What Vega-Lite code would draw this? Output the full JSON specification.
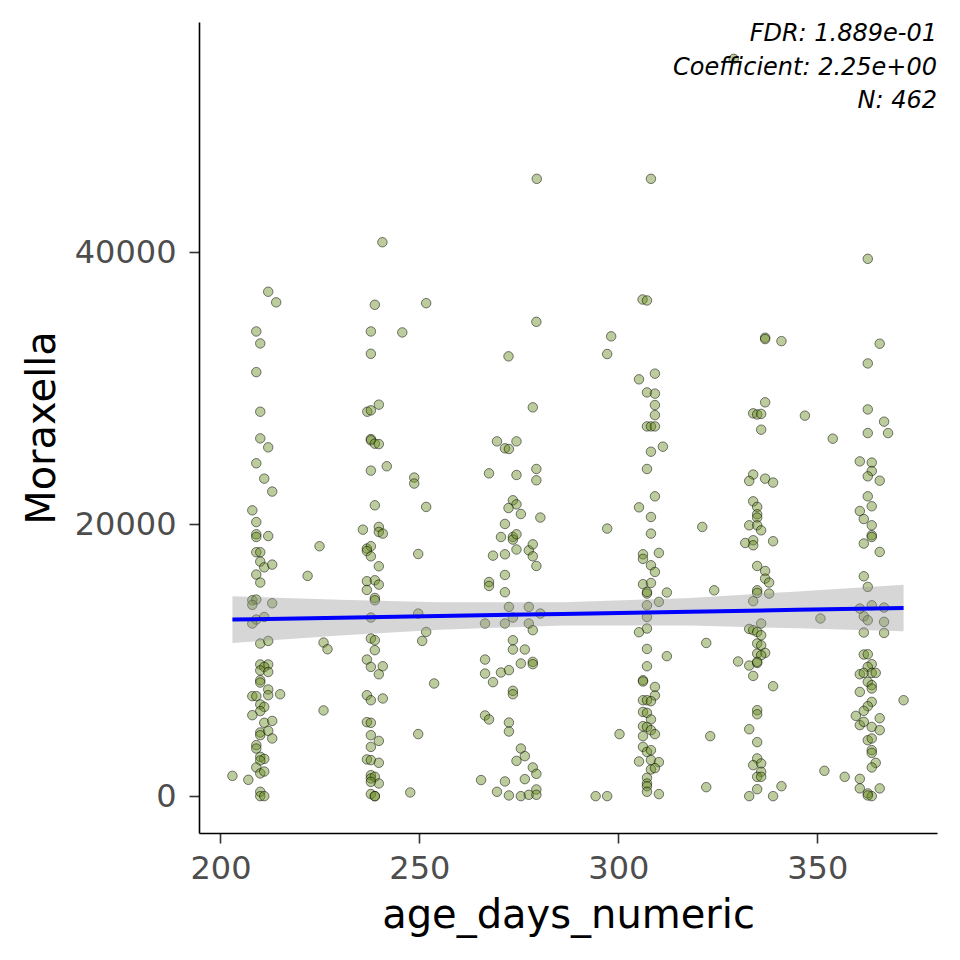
{
"$schema": "https://vega.github.io/schema/vega-lite/v6.json",
"width": 738,
"height": 811,
"padding": {"left": 22, "top": 21, "right": 20, "bottom": 5},
"config": {"view": {"stroke": null}, "font": "DejaVu Sans",
  "axis": {"grid": false, "labelFontSize": 32, "labelColor": "#4d4d4d", "titleFontSize": 40, "titleFontWeight": "normal", "titleColor": "#000000", "tickSize": 10, "tickWidth": 1.6, "tickColor": "#333333", "domainColor": "#000000", "domainWidth": 1.6, "labelFlush": false, "labelOverlap": false}},
"datasets": {
"pts": [
{"d":240.7,"v":40720},{"d":212.0,"v":37080},{"d":214.0,"v":36300},{"d":238.8,"v":36120},{"d":251.7,"v":36240},{"d":209.0,"v":34160},{"d":210.0,"v":33280},{"d":237.8,"v":34160},{"d":245.7,"v":34090},{"d":237.8,"v":32520},{"d":209.0,"v":31170},{"d":210.0,"v":28260},{"d":236.9,"v":28260},{"d":237.8,"v":28360},{"d":239.8,"v":28780},{"d":210.0,"v":26300},{"d":212.0,"v":25640},{"d":237.8,"v":26250},{"d":237.8,"v":26160},{"d":238.8,"v":25910},{"d":239.8,"v":25880},{"d":209.0,"v":24470},{"d":211.0,"v":23340},{"d":213.0,"v":22390},{"d":237.8,"v":23930},{"d":241.8,"v":24250},{"d":248.7,"v":23420},{"d":248.7,"v":22980},{"d":208.0,"v":21010},{"d":209.0,"v":20150},{"d":238.8,"v":21380},{"d":251.7,"v":21260},
{"d":209.0,"v":19250},{"d":209.0,"v":19050},{"d":212.0,"v":19120},{"d":209.0,"v":17930},{"d":210.0,"v":17930},{"d":210.0,"v":17240},{"d":211.0,"v":16820},{"d":213.0,"v":17020},{"d":209.0,"v":16290},{"d":210.0,"v":15700},{"d":208.0,"v":14400},{"d":209.0,"v":14450},{"d":208.0,"v":14060},{"d":213.0,"v":14180},{"d":209.0,"v":12980},{"d":208.0,"v":12690},{"d":211.0,"v":13170},{"d":210.0,"v":11220},{"d":212.0,"v":11410},{"d":210.0,"v":9680},{"d":212.0,"v":9680},{"d":211.0,"v":9500},{"d":210.0,"v":9240},{"d":212.0,"v":9130},{"d":210.0,"v":8520},{"d":210.0,"v":8350},{"d":212.0,"v":7840},{"d":212.0,"v":7420},{"d":208.0,"v":7350},{"d":209.0,"v":7350},{"d":215.0,"v":7490},{"d":210.0,"v":6740},{"d":211.0,"v":6560},{"d":210.0,"v":6250},{"d":208.0,"v":5950},{"d":211.0,"v":5390},{"d":213.0,"v":5530},{"d":210.0,"v":4680},{"d":210.0,"v":4480},{"d":212.0,"v":4800},{"d":213.0,"v":4240},{"d":209.0,"v":3750},{"d":209.0,"v":3500},{"d":210.0,"v":2890},{"d":211.0,"v":2740},{"d":210.0,"v":2620},{"d":209.0,"v":2110},{"d":210.0,"v":1670},{"d":211.0,"v":1810},{"d":203.0,"v":1490},{"d":207.0,"v":1200},{"d":210.0,"v":320},{"d":210.0,"v":0},{"d":211.0,"v":0},
{"d":224.9,"v":18370},{"d":221.9,"v":16190},{"d":225.9,"v":11290},{"d":226.9,"v":10800},{"d":225.9,"v":6300},
{"d":235.8,"v":19590},{"d":239.8,"v":19790},{"d":239.8,"v":19420},{"d":240.8,"v":19300},{"d":236.8,"v":18200},{"d":237.8,"v":18370},{"d":236.8,"v":18020},{"d":237.8,"v":17630},{"d":239.8,"v":16900},{"d":236.8,"v":15800},{"d":238.8,"v":15870},{"d":239.8,"v":15550},{"d":236.8,"v":15160},{"d":238.8,"v":14570},{"d":238.8,"v":14400},{"d":237.8,"v":13130},{"d":237.8,"v":11590},{"d":238.8,"v":11460},{"d":238.8,"v":10730},{"d":236.8,"v":10040},{"d":237.8,"v":9500},{"d":239.8,"v":8960},{"d":240.8,"v":9550},{"d":236.8,"v":7420},{"d":237.8,"v":7050},{"d":240.8,"v":7180},{"d":236.8,"v":5440},{"d":237.8,"v":5390},{"d":237.8,"v":4480},{"d":239.8,"v":4060},{"d":237.8,"v":3620},{"d":236.8,"v":2700},{"d":237.8,"v":2650},{"d":239.8,"v":2450},{"d":237.8,"v":1540},{"d":237.8,"v":1300},{"d":238.8,"v":1420},{"d":239.8,"v":930},{"d":237.8,"v":1050},{"d":237.8,"v":150},{"d":238.8,"v":0},{"d":238.8,"v":0},
{"d":249.7,"v":17800},{"d":249.7,"v":13420},{"d":251.7,"v":12070},{"d":250.7,"v":11410},{"d":253.7,"v":8280},{"d":249.7,"v":4560},{"d":247.7,"v":270},
{"d":306.1,"v":36510},{"d":307.2,"v":36440},{"d":279.4,"v":34870},{"d":298.2,"v":33800},{"d":272.4,"v":32330},{"d":297.2,"v":32500},{"d":309.2,"v":31060},{"d":305.2,"v":30640},{"d":307.2,"v":29680},{"d":309.2,"v":29590},{"d":309.2,"v":28750},{"d":309.2,"v":28010},{"d":307.2,"v":27180},{"d":308.2,"v":27180},{"d":309.2,"v":27180},{"d":278.5,"v":28580},{"d":311.2,"v":25690},{"d":308.2,"v":25320},{"d":269.5,"v":26080},{"d":274.4,"v":26080},{"d":271.5,"v":25570},{"d":272.5,"v":25520},{"d":267.5,"v":23730},{"d":274.4,"v":23610},{"d":279.4,"v":24050},{"d":279.4,"v":23220},{"d":307.2,"v":24050},{"d":309.2,"v":22040},{"d":305.2,"v":21230},{"d":308.2,"v":20520},{"d":273.5,"v":21750},{"d":274.4,"v":21450},{"d":272.4,"v":21180},{"d":275.5,"v":20740},{"d":280.4,"v":20480},{"d":271.5,"v":20010},{"d":297.2,"v":19670},
{"d":270.5,"v":19050},{"d":273.5,"v":19050},{"d":273.5,"v":18860},{"d":274.4,"v":19250},{"d":268.5,"v":17680},{"d":271.5,"v":17780},{"d":274.4,"v":18130},{"d":277.5,"v":18070},{"d":278.5,"v":18510},{"d":278.5,"v":17630},{"d":279.4,"v":16920},{"d":271.5,"v":16260},{"d":267.5,"v":15740},{"d":267.5,"v":15450},{"d":271.5,"v":14990},{"d":272.5,"v":13910},{"d":277.5,"v":13910},{"d":280.4,"v":13420},{"d":273.5,"v":13130},{"d":266.5,"v":12690},{"d":271.5,"v":12690},{"d":277.5,"v":12690},{"d":278.5,"v":12200},{"d":273.5,"v":11460},{"d":273.5,"v":10780},{"d":276.5,"v":10780},{"d":266.5,"v":10040},{"d":275.5,"v":9750},{"d":278.5,"v":9870},{"d":278.5,"v":9700},{"d":266.5,"v":9010},{"d":270.5,"v":9090},{"d":272.5,"v":9260},{"d":268.5,"v":8380},{"d":273.5,"v":7740},{"d":273.5,"v":7490},{"d":266.5,"v":5930},{"d":267.5,"v":5640},{"d":272.5,"v":5410},{"d":272.5,"v":4750},{"d":275.5,"v":3500},{"d":276.5,"v":2940},{"d":274.4,"v":2590},{"d":278.5,"v":2110},{"d":279.4,"v":1640},{"d":276.5,"v":1250},{"d":265.5,"v":1180},{"d":271.5,"v":1080},{"d":269.5,"v":320},{"d":272.5,"v":50},{"d":275.5,"v":0},{"d":277.5,"v":100},{"d":279.4,"v":490},{"d":279.4,"v":100},
{"d":300.3,"v":4560},{"d":294.3,"v":0},{"d":297.2,"v":0},
{"d":308.2,"v":19300},{"d":306.2,"v":17780},{"d":306.2,"v":17440},{"d":310.2,"v":17880},{"d":308.2,"v":16970},{"d":309.2,"v":16480},{"d":306.2,"v":15580},{"d":308.2,"v":15670},{"d":307.2,"v":14890},{"d":307.2,"v":15010},{"d":312.2,"v":14970},{"d":310.2,"v":14280},{"d":307.2,"v":14030},{"d":307.2,"v":13170},{"d":307.2,"v":12320},{"d":305.2,"v":12050},{"d":307.2,"v":10820},{"d":312.2,"v":10290},{"d":307.2,"v":9550},{"d":306.2,"v":8520},{"d":306.2,"v":8430},{"d":309.2,"v":8030},{"d":309.2,"v":7400},{"d":306.2,"v":7050},{"d":307.2,"v":7050},{"d":308.2,"v":6980},{"d":306.2,"v":6190},{"d":307.2,"v":6120},{"d":308.2,"v":5640},{"d":306.2,"v":5140},{"d":307.2,"v":5090},{"d":308.2,"v":4850},{"d":309.2,"v":4560},{"d":306.2,"v":4410},{"d":306.2,"v":3620},{"d":307.2,"v":3250},{"d":308.2,"v":3380},{"d":305.2,"v":2550},{"d":308.2,"v":2650},{"d":310.2,"v":2500},{"d":308.2,"v":1960},{"d":309.2,"v":2060},{"d":307.2,"v":1350},{"d":307.2,"v":930},{"d":307.2,"v":730},{"d":307.2,"v":320},{"d":310.2,"v":150},
{"d":362.7,"v":39500},{"d":336.9,"v":33700},{"d":336.9,"v":33600},{"d":341.0,"v":33450},{"d":365.7,"v":33260},{"d":362.7,"v":31810},{"d":336.9,"v":28950},{"d":333.9,"v":28140},{"d":334.9,"v":28060},{"d":335.9,"v":28100},{"d":346.9,"v":27970},{"d":335.9,"v":26940},{"d":353.9,"v":26280},{"d":362.7,"v":28430},{"d":366.8,"v":27530},{"d":362.7,"v":26690},{"d":367.8,"v":26690},{"d":360.7,"v":24610},{"d":363.7,"v":24520},{"d":363.7,"v":23900},{"d":362.7,"v":23510},{"d":365.7,"v":23190},{"d":333.9,"v":23640},{"d":332.9,"v":23170},{"d":336.9,"v":23340},{"d":338.9,"v":23050},{"d":362.7,"v":22040},{"d":363.7,"v":21310},{"d":360.7,"v":20960},{"d":361.7,"v":20370},{"d":363.7,"v":19910},{"d":333.9,"v":21670},{"d":334.9,"v":21260},{"d":334.9,"v":20720},{"d":334.9,"v":20480},{"d":332.9,"v":19910},{"d":334.9,"v":19910},{"d":321.1,"v":19790},
{"d":335.9,"v":19540},{"d":331.9,"v":18610},{"d":333.9,"v":18810},{"d":333.9,"v":18440},{"d":338.9,"v":18740},{"d":334.9,"v":16920},{"d":336.9,"v":16550},{"d":336.9,"v":15990},{"d":337.9,"v":15700},{"d":334.9,"v":15130},{"d":334.9,"v":14940},{"d":337.9,"v":14890},{"d":333.9,"v":14330},{"d":324.1,"v":15130},{"d":350.8,"v":13060},{"d":335.9,"v":12690},{"d":332.9,"v":12290},{"d":333.9,"v":12200},{"d":334.9,"v":12070},{"d":335.9,"v":11830},{"d":334.9,"v":11220},{"d":335.9,"v":11090},{"d":336.9,"v":10530},{"d":334.9,"v":10480},{"d":335.9,"v":10360},{"d":322.1,"v":11260},{"d":330.1,"v":9900},{"d":332.9,"v":9600},{"d":334.9,"v":9790},{"d":334.9,"v":9870},{"d":333.9,"v":8840},{"d":338.9,"v":8080},{"d":334.9,"v":6320},{"d":334.9,"v":6020},{"d":332.9,"v":4920},{"d":323.1,"v":4410},{"d":334.9,"v":3970},{"d":334.9,"v":2770},{"d":333.9,"v":2280},{"d":335.9,"v":2400},{"d":335.9,"v":1790},{"d":334.9,"v":1420},{"d":335.9,"v":1420},{"d":322.1,"v":660},{"d":334.9,"v":510},{"d":332.9,"v":0},{"d":338.9,"v":0},{"d":341.0,"v":730},{"d":351.8,"v":1860},{"d":356.9,"v":1420},
{"d":363.7,"v":19180},{"d":363.7,"v":19050},{"d":361.7,"v":18570},{"d":365.7,"v":17950},{"d":361.7,"v":16160},{"d":362.7,"v":15380},{"d":360.7,"v":13790},{"d":363.7,"v":14030},{"d":366.8,"v":13860},{"d":361.7,"v":13220},{"d":362.7,"v":12930},{"d":366.8,"v":12810},{"d":361.7,"v":12030},{"d":366.8,"v":12000},{"d":361.7,"v":10410},{"d":362.7,"v":10430},{"d":363.7,"v":9700},{"d":362.7,"v":9500},{"d":360.7,"v":8960},{"d":361.7,"v":9060},{"d":363.7,"v":9060},{"d":364.7,"v":9060},{"d":362.7,"v":8400},{"d":363.7,"v":8160},{"d":363.7,"v":7910},{"d":360.7,"v":7660},{"d":371.7,"v":7050},{"d":363.7,"v":6930},{"d":362.7,"v":6610},{"d":361.7,"v":6270},{"d":359.7,"v":5900},{"d":360.7,"v":5220},{"d":361.7,"v":5460},{"d":365.7,"v":5730},{"d":363.7,"v":5090},{"d":365.7,"v":4850},{"d":362.7,"v":4110},{"d":363.7,"v":4240},{"d":363.7,"v":3380},{"d":363.7,"v":3180},{"d":364.7,"v":2450},{"d":363.7,"v":2110},{"d":360.7,"v":1270},{"d":360.7,"v":570},{"d":362.7,"v":200},{"d":363.7,"v":0},{"d":362.7,"v":50},{"d":365.7,"v":570},
{"d":279.5,"v":45380},{"d":308.2,"v":45380},{"d":329.0,"v":54200}
],
"fit": [
{"d":203,"fit":12980,"lo":11265,"hi":14695},
{"d":230,"fit":13116,"lo":11800,"hi":14430},
{"d":255,"fit":13242,"lo":12227,"hi":14257},
{"d":286,"fit":13397,"lo":12548,"hi":14246},
{"d":318,"fit":13558,"lo":12543,"hi":14573},
{"d":345,"fit":13694,"lo":12337,"hi":15051},
{"d":371.7,"fit":13830,"lo":12120,"hi":15540}
],
"ann": [
{"d":380.1,"v":55540,"label":"FDR: 1.889e-01"},
{"d":380.1,"v":53020,"label":"Coefficient: 2.25e+00"},
{"d":380.1,"v":50570,"label":"N: 462"}
]
},
"layer": [
{"data": {"name": "pts"},
 "mark": {"type": "circle", "size": 90, "fill": "#6b8e23", "fillOpacity": 0.45, "stroke": "#000000", "strokeOpacity": 0.5, "strokeWidth": 1},
 "encoding": {
  "x": {"field": "d", "type": "quantitative", "title": "age_days_numeric", "scale": {"domain": [194.6, 380.1], "nice": false, "zero": false},
        "axis": {"values": [200, 250, 300, 350], "labelPadding": 10, "titlePadding": 11}},
  "y": {"field": "v", "type": "quantitative", "title": "Moraxella", "scale": {"domain": [-2710, 56910], "nice": false, "zero": false},
        "axis": {"values": [0, 20000, 40000], "format": "d", "labelPadding": 13, "titlePadding": 12}}
 }},
{"data": {"name": "fit"},
 "mark": {"type": "area", "color": "#999999", "opacity": 0.4},
 "encoding": {
  "x": {"field": "d", "type": "quantitative", "title": "age_days_numeric"},
  "y": {"field": "lo", "type": "quantitative", "title": "Moraxella"},
  "y2": {"field": "hi"}
 }},
{"data": {"name": "fit"},
 "mark": {"type": "line", "color": "#0000ff", "strokeWidth": 4},
 "encoding": {
  "x": {"field": "d", "type": "quantitative", "title": "age_days_numeric"},
  "y": {"field": "fit", "type": "quantitative", "title": "Moraxella"}
 }},
{"data": {"name": "ann"},
 "mark": {"type": "text", "align": "right", "baseline": "alphabetic", "fontStyle": "italic", "fontSize": 24, "font": "DejaVu Sans", "color": "#000000"},
 "encoding": {
  "x": {"field": "d", "type": "quantitative", "title": "age_days_numeric"},
  "y": {"field": "v", "type": "quantitative", "title": "Moraxella"},
  "text": {"field": "label", "type": "nominal"}
 }}
]
}
